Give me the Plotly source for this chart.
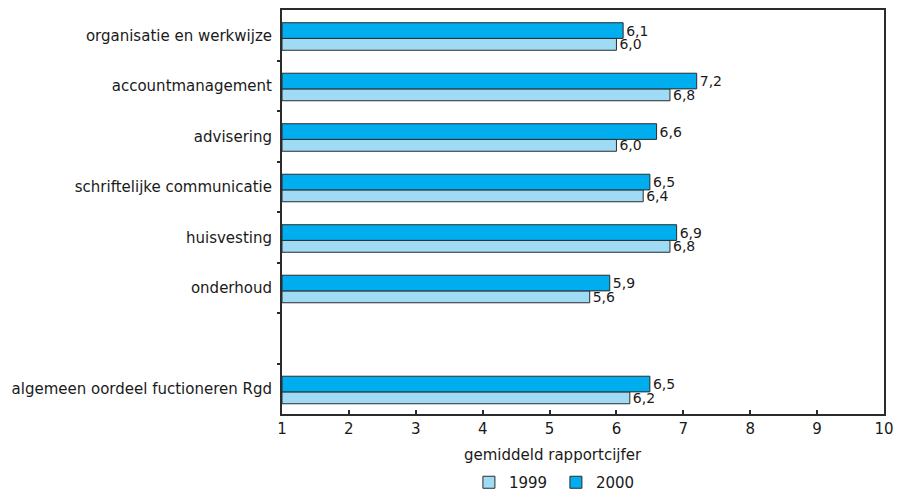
import plotly.graph_objects as go

# Data (top to bottom), blank slot between onderhoud and algemeen oordeel
categories = [
    "organisatie en werkwijze",
    "accountmanagement",
    "advisering",
    "schriftelijke communicatie",
    "huisvesting",
    "onderhoud",
    "",
    "algemeen oordeel fuctioneren Rgd",
]
scores_1999 = [6.0, 6.8, 6.0, 6.4, 6.8, 5.6, None, 6.2]
scores_2000 = [6.1, 7.2, 6.6, 6.5, 6.9, 5.9, None, 6.5]
x_ticks = [1, 2, 3, 4, 5, 6, 7, 8, 9, 10]

COLORS = {
    "y1999": "#A0DBF6",
    "y2000": "#00AEEF",
    "edge": "#2B2B2B",
    "text": "#1A1A1A",
}
FONT = "DejaVu Sans, Verdana, sans-serif"

pos = list(range(len(categories)))


def fmt(v):
    return "" if v is None else f"{v:.1f}".replace(".", ",")


fig = go.Figure()
fig.add_trace(go.Bar(
    y=pos, x=[v - 1 if v is not None else None for v in scores_1999],
    base=1, orientation="h", name="1999",
    width=0.235, offset=0.062,
    marker=dict(color=COLORS["y1999"], line=dict(color=COLORS["edge"], width=1)),
    text=[fmt(v) for v in scores_1999], textposition="outside",
    constraintext="none", cliponaxis=False,
    textfont=dict(family=FONT, size=14, color=COLORS["text"]),
))
fig.add_trace(go.Bar(
    y=pos, x=[v - 1 if v is not None else None for v in scores_2000],
    base=1, orientation="h", name="2000",
    width=0.31, offset=-0.248,
    marker=dict(color=COLORS["y2000"], line=dict(color=COLORS["edge"], width=1)),
    text=[fmt(v) for v in scores_2000], textposition="outside",
    constraintext="none", cliponaxis=False,
    textfont=dict(family=FONT, size=14, color=COLORS["text"]),
))

boundaries = [i + 0.5 for i in range(len(categories) - 1)]

# page body adds an 8px offset, so the margins are shifted to compensate
fig.update_layout(
    width=896, height=491,
    paper_bgcolor="white", plot_bgcolor="white",
    font=dict(family=FONT, size=15, color=COLORS["text"]),
    barmode="overlay",
    margin=dict(l=274, r=20, t=0, b=79),
    xaxis=dict(
        range=[1, 10], tickvals=x_ticks, ticks="inside", ticklen=4,
        tickcolor=COLORS["edge"], tickwidth=1.5,
        showgrid=False, zeroline=False,
        showline=True, linecolor=COLORS["edge"], linewidth=2, mirror=True,
        tickfont=dict(size=15),
    ),
    yaxis=dict(
        range=[len(categories) - 0.5, -0.5],
        tickvals=pos, ticktext=categories, ticks="",
        showgrid=False, zeroline=False,
        showline=True, linecolor=COLORS["edge"], linewidth=2, mirror=True,
        tickfont=dict(size=15), ticklabelstandoff=5,
        minor=dict(tickvals=boundaries, ticks="outside", ticklen=3,
                   tickcolor=COLORS["edge"], tickwidth=1.5),
    ),
    yaxis2=dict(
        overlaying="y", side="left", matches="y",
        range=[len(categories) - 0.5, -0.5],
        tickvals=boundaries, ticks="inside", ticklen=3,
        tickcolor=COLORS["edge"], tickwidth=1.5,
        showticklabels=False, showgrid=False, zeroline=False, showline=False,
    ),
    showlegend=True,
    legend=dict(
        orientation="h", x=0.455, xanchor="center", y=-0.17, yanchor="middle",
        font=dict(size=15), traceorder="normal",
        itemwidth=30, tracegroupgap=0,
        entrywidth=42, entrywidthmode="pixels",
    ),
    annotations=[dict(
        text="gemiddeld rapportcijfer", xref="paper", yref="paper",
        x=0.45, y=-0.102, xanchor="center", yanchor="middle",
        showarrow=False, font=dict(size=15),
    )],
)

fig.write_html("out.html")
